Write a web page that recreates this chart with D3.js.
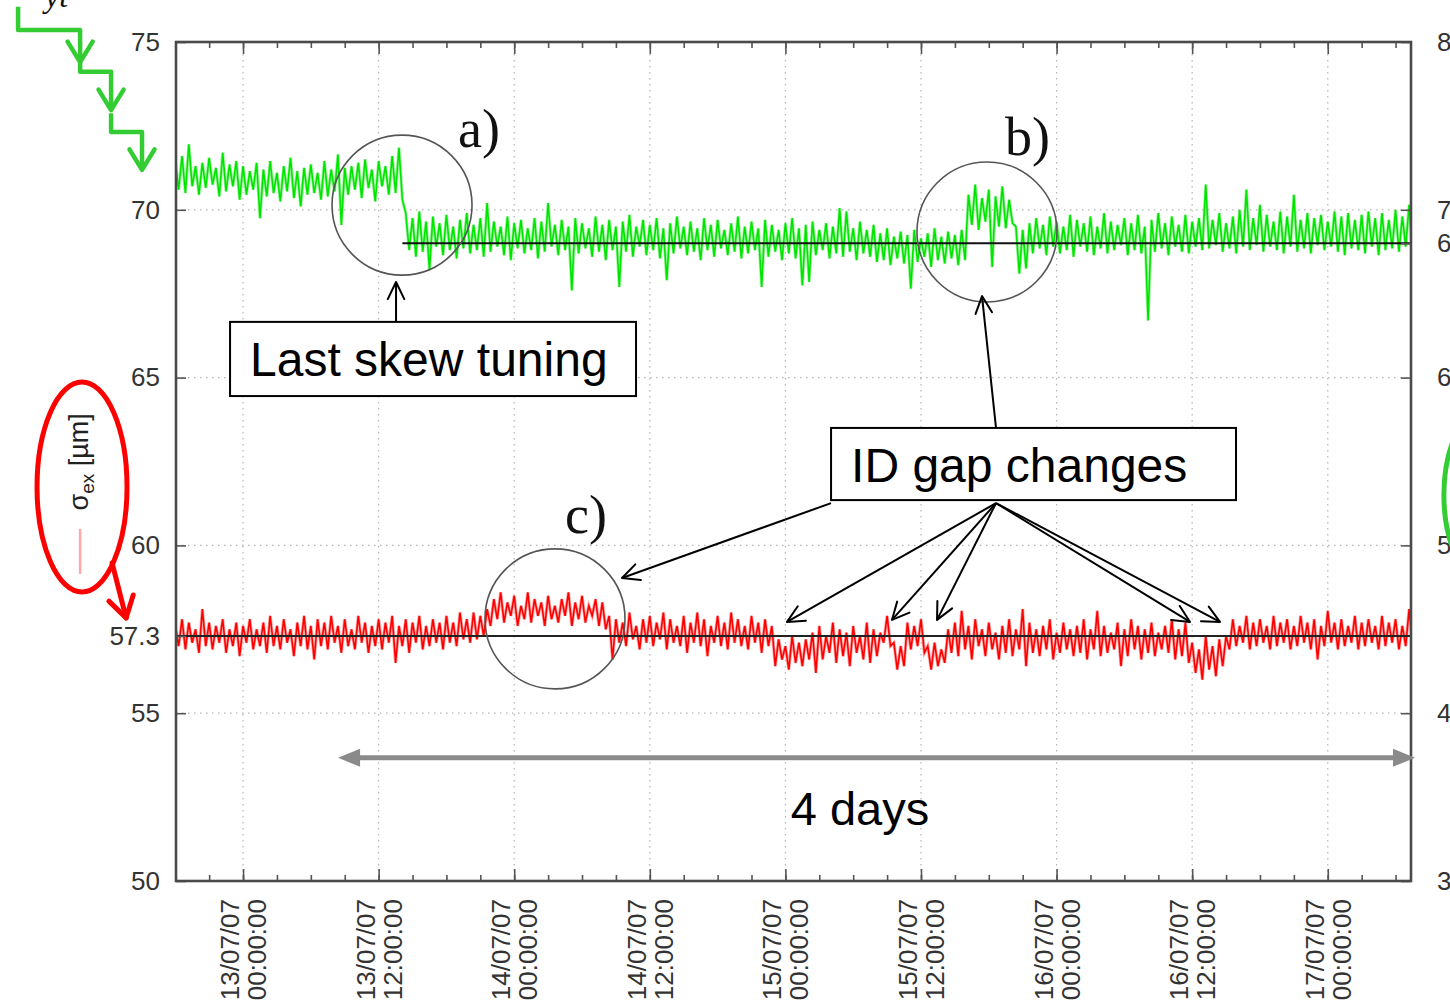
<!DOCTYPE html>
<html>
<head>
<meta charset="utf-8">
<script src="https://cdn.jsdelivr.net/npm/d3@7"></script>
<style>
  body { margin: 0; background: #fff; }
  svg { display: block; font-family: "Liberation Sans", Arial, sans-serif; }
</style>
</head>
<body>
<svg id="chart" width="1450" height="1008"></svg>
<script>
// both beam size traces are sampled every 0.3 h starting 12/07/07 18:00
let sampleStart = Date.UTC(2007, 6, 12, 18, 0);
let sampleStepHours = 0.3;

// sigma_ey [um] (right axis)
let sigmaEy = [
  72.9,71.2,73.2,71.0,73.9,71.4,72.6,70.9,72.8,71.3,73.1,71.5,72.5,70.8,73.4,71.1,72.7,71.4,72.9,70.6,
  72.6,70.9,72.3,71.2,72.8,69.5,72.4,70.8,72.9,71.0,72.2,70.5,72.6,71.1,73.1,70.7,72.3,70.2,72.5,70.9,
  72.7,71.0,72.2,70.6,72.9,70.8,72.4,71.1,73.3,69.1,72.5,70.9,72.6,71.2,72.8,70.7,73.0,71.3,72.4,70.5,
  72.9,71.4,72.6,70.9,73.2,71.0,73.7,70.6,
  69.8,67.6,69.5,67.2,69.9,67.5,69.3,66.4,69.6,67.8,69.2,67.3,69.7,67.6,69.0,67.1,69.4,67.7,69.8,67.4,
  69.1,67.6,69.5,67.2,70.4,67.5,69.3,67.8,69.0,67.3,69.6,67.0,69.2,67.7,69.4,67.4,68.9,67.6,69.5,67.1,
  69.3,67.5,70.4,67.8,69.1,67.3,69.4,67.6,69.0,65.2,69.5,67.4,69.2,67.7,68.9,67.2,69.6,67.5,69.1,67.0,
  69.4,67.6,69.0,65.4,69.3,67.5,69.7,67.2,69.0,67.8,69.4,67.3,69.1,67.6,69.5,67.1,68.9,65.8,69.2,67.4,
  69.6,67.7,69.0,67.3,69.3,67.5,68.9,67.0,69.5,67.6,69.1,67.2,69.4,67.7,68.8,67.3,69.2,67.5,69.6,67.1,
  69.0,67.4,69.3,67.6,68.9,65.4,69.4,67.2,69.1,67.5,68.8,67.0,69.2,67.4,69.5,67.1,68.9,65.5,69.1,65.7,
  69.3,67.3,68.8,67.6,69.2,67.1,69.0,67.4,70.1,67.2,69.9,67.5,68.9,67.0,69.3,67.4,68.8,67.2,69.1,66.9,
  68.6,67.0,68.9,66.7,68.4,67.1,68.7,66.8,68.5,65.3,68.8,66.9,68.3,67.2,68.6,66.6,68.9,67.0,68.4,66.8,
  68.7,67.1,68.5,66.7,68.8,67.0,
  70.9,69.1,71.5,68.8,70.7,69.3,71.2,66.6,70.8,69.0,71.4,68.9,70.6,69.2,
  69.0,66.2,68.8,66.5,69.2,67.4,69.5,67.7,69.1,67.3,69.6,67.8,69.3,67.4,69.0,67.6,69.7,67.2,69.4,67.8,
  69.2,67.5,69.6,67.3,69.0,67.7,69.8,67.4,69.3,67.6,69.1,67.9,69.5,67.3,69.2,67.6,69.7,67.4,69.0,63.4,
  69.4,67.5,69.8,67.7,69.2,67.3,69.6,67.8,69.1,67.5,69.7,67.4,69.3,67.8,69.5,67.6,71.5,67.7,69.4,67.9,
  69.8,67.5,69.2,67.7,69.6,67.4,70.0,67.8,71.2,67.6,69.5,67.9,70.3,67.5,69.7,67.8,69.3,67.6,69.9,67.4,
  69.6,67.8,70.9,67.5,69.4,67.7,69.8,67.4,69.5,67.9,69.7,67.6,69.3,67.8,69.9,67.5,69.6,67.3,69.8,67.7,
  69.4,67.6,69.7,67.4,69.9,67.8,69.5,67.3,69.8,67.6,69.4,67.7,70.0,67.5,69.6,67.8,70.3,67.4,69.7
];

// sigma_ex [um] (left axis)
let sigmaEx = [
  57.6,57.0,57.8,56.9,57.7,57.1,57.5,56.8,58.1,57.0,57.7,56.9,57.6,57.1,57.8,56.8,57.5,57.0,57.7,56.7,
  57.6,57.1,57.8,56.9,57.5,57.0,57.7,56.8,57.9,57.0,57.6,56.9,57.8,57.1,57.5,56.7,57.7,57.0,57.9,56.9,
  57.6,56.6,57.8,57.0,57.7,56.9,57.9,57.1,57.6,56.8,57.8,57.0,57.5,56.9,57.9,57.1,57.7,56.8,57.6,57.0,
  57.8,56.9,57.7,57.1,57.9,56.5,57.6,57.0,57.8,56.8,57.7,57.1,57.9,56.9,57.6,57.0,57.8,57.1,57.7,56.9,
  57.9,57.1,57.7,57.0,58.0,57.2,57.8,57.1,58.0,57.2,57.9,57.3,58.1,
  57.6,58.4,57.8,58.6,57.7,58.3,57.9,58.5,57.6,58.2,57.8,58.6,57.7,58.4,57.9,58.3,57.6,58.5,57.8,58.2,
  57.7,58.4,57.9,58.6,57.6,58.3,57.8,58.5,57.7,58.2,57.9,58.4,57.6,58.3,57.5,
  57.9,56.6,57.8,57.1,57.7,57.0,58.0,57.2,57.6,56.9,57.8,57.1,57.9,57.0,57.7,57.2,58.0,56.9,57.8,57.1,
  57.6,57.0,57.9,56.8,57.7,57.1,58.0,57.0,57.8,56.7,57.6,57.1,57.9,57.0,57.7,56.9,58.0,57.1,57.8,57.0,
  57.6,56.9,57.9,57.1,57.7,56.8,57.8,57.0,57.6,
  56.4,57.2,56.6,57.0,56.3,57.3,56.5,57.1,56.4,57.2,56.6,
  57.4,56.2,57.6,56.6,57.3,56.8,57.7,56.5,57.5,56.7,57.4,56.4,57.6,56.8,57.3,56.6,57.7,56.5,57.5,56.7,57.4,
  57.1,57.9,57.0,
  57.1,56.3,57.0,56.4,
  57.7,56.9,57.6,57.0,57.8,56.8,
  57.0,56.3,57.1,56.4,56.9,56.5,
  57.5,56.8,57.7,56.7,58.05,56.9,57.6,56.6,57.8,57.0,57.5,56.7,57.7,56.9,57.4,56.6,57.6,56.8,57.8,56.7,
  57.5,56.9,58.1,56.4,57.7,56.8,57.5,56.7,57.6,56.9,57.8,56.6,57.4,56.8,57.7,56.9,57.5,56.7,57.6,56.8,
  57.8,56.6,57.5,56.9,58.05,56.7,57.6,56.8,57.4,56.9,57.7,56.4,57.5,56.7,57.8,56.9,57.6,56.6,57.5,56.8,
  57.7,56.7,57.4,56.9,57.6,56.8,57.8,56.6,57.5,56.7,57.7,56.5,
  57.1,56.2,56.9,56.0,57.3,56.3,57.0,56.1,57.2,56.4,57.3,
  56.9,57.8,57.0,57.6,57.1,57.9,56.9,57.7,57.0,57.8,57.1,57.6,56.9,57.9,57.0,57.7,57.1,57.8,56.9,57.6,
  57.0,57.9,57.1,57.7,56.9,57.8,56.6,57.6,57.0,58.05,57.1,57.7,56.9,57.8,57.0,57.6,57.1,57.9,56.9,57.7,
  57.0,57.8,57.1,57.6,56.9,57.9,57.0,57.7,57.1,57.8,56.9,57.6,57.0,58.1,57.1,57.8
];

let leftTicks = [50, 55, 57.3, 60, 65, 70, 75];
let leftGrid = [55, 60, 65, 70];
let rightTicks = [30, 40, 50, 60, 68, 70, 80];
let sigmaExRef = 57.3;   // left axis
let sigmaEyRef = 68;     // right axis
let tuningHour = 14.1;   // hours after 13/07/07 00:00

// annotations, positions as (hours after 13/07/07 00:00, left axis value)
let circles = [{h: 14.07, v: 70.14}, {h: 65.84, v: 69.34}, {h: 27.61, v: 57.81}];
let letters = [{t: "a)", h: 19.03, v: 71.87}, {t: "b)", h: 67.43, v: 71.63}, {t: "c)", h: 28.5, v: 60.37}];
let boxes = [
  {t: "Last skew tuning", h0: -1.15, h1: 34.78, v0: 66.66, v1: 64.45, th: 0.62, tv: 65.05},
  {t: "ID gap changes", h0: 52.04, h1: 87.88, v0: 63.50, v1: 61.35, th: 53.81, tv: 61.89}
];
let arrows = [
  [[13.54, 66.66], [13.54, 67.85]],
  [[66.64, 63.50], [65.40, 67.43]],
  [[52.04, 61.26], [33.54, 59.03]],
  [[66.64, 61.26], [48.14, 57.72]],
  [[66.64, 61.26], [57.43, 57.78]],
  [[66.64, 61.26], [61.42, 57.78]],
  [[66.64, 61.26], [83.81, 57.72]],
  [[66.64, 61.26], [86.46, 57.72]]
];
let greenSteps = [
  [[-19.91, 76.05], [-19.91, 75.36], [-14.42, 75.36], [-14.42, 74.40]],
  [[-14.42, 74.40], [-14.42, 74.11], [-11.68, 74.11], [-11.68, 72.97]],
  [[-11.68, 72.88], [-11.68, 72.32], [-8.94, 72.32], [-8.94, 71.19]]
];

let width = 1450, height = 1008;
let margin = {top: 42, right: 39, bottom: 127, left: 176};
let day0 = Date.UTC(2007, 6, 13, 0, 0);

let x = d3.scaleUtc()
  .domain([new Date(Date.UTC(2007, 6, 12, 18, 4)), new Date(Date.UTC(2007, 6, 17, 7, 22))])
  .range([margin.left, width - margin.right]);
let y = d3.scaleLinear().domain([50, 75]).range([height - margin.bottom, margin.top]);
let y2 = d3.scaleLinear().domain([30, 80]).range([height - margin.bottom, margin.top]);

let hx = h => x(new Date(day0 + h * 3600e3));
let sampleTime = i => new Date(sampleStart + i * sampleStepHours * 3600e3);

let svg = d3.select("#chart");
let plotL = margin.left, plotR = width - margin.right, plotT = margin.top, plotB = height - margin.bottom;

svg.append("defs").append("clipPath").attr("id", "plotclip")
  .append("rect").attr("x", plotL).attr("y", plotT).attr("width", plotR - plotL).attr("height", plotB - plotT);

// grid
let majorTicks = d3.utcHour.every(12).range(x.domain()[0], x.domain()[1]);
let minorTicks = d3.utcHour.every(3).range(x.domain()[0], x.domain()[1]);
let grid = svg.append("g").attr("stroke", "#b4b4b4").attr("stroke-width", 1.2).attr("stroke-dasharray", "1.5,4.5");
majorTicks.forEach(function(d) {
  grid.append("line").attr("x1", x(d)).attr("x2", x(d)).attr("y1", plotT).attr("y2", plotB);
});
leftGrid.forEach(function(v) {
  grid.append("line").attr("x1", plotL).attr("x2", plotR).attr("y1", y(v)).attr("y2", y(v));
});

// traces: a soft wide stroke under a sharp one gives the dense noisy band
let plot = svg.append("g").attr("clip-path", "url(#plotclip)");
let traces = [
  {data: sigmaEy, scale: y2, soft: "#7cf57c", sharp: "#00e400"},
  {data: sigmaEx, scale: y, soft: "#ff8080", sharp: "#ff0000"}
];
traces.forEach(function(tr) {
  let line = d3.line().x((d, i) => x(sampleTime(i))).y(d => tr.scale(d));
  plot.append("path").datum(tr.data)
    .attr("fill", "none").attr("stroke", tr.soft).attr("stroke-width", 3.2).attr("stroke-opacity", 0.7)
    .attr("d", line);
  plot.append("path").datum(tr.data)
    .attr("fill", "none").attr("stroke", tr.sharp).attr("stroke-width", 1.6)
    .attr("d", line);
});

// reference lines
plot.append("line").attr("x1", hx(tuningHour)).attr("x2", plotR)
  .attr("y1", y2(sigmaEyRef)).attr("y2", y2(sigmaEyRef)).attr("stroke", "#111").attr("stroke-width", 2);
plot.append("line").attr("x1", plotL).attr("x2", plotR)
  .attr("y1", y(sigmaExRef)).attr("y2", y(sigmaExRef)).attr("stroke", "#222").attr("stroke-width", 2);

// axes, gnuplot style ticks pointing inward
function styleAxis(g) {
  g.select(".domain").remove();
  g.selectAll(".tick line").attr("stroke", "#555").attr("stroke-width", 1.6);
  g.selectAll("text").attr("fill", "#333").style("font-size", "26px")
    .style("font-family", '"Liberation Sans", Arial, sans-serif');
}
svg.append("g").attr("transform", `translate(${plotL},0)`)
  .call(d3.axisLeft(y).tickValues(leftTicks).tickSize(-10).tickPadding(16).tickFormat(d => String(d)))
  .call(styleAxis);
svg.append("g").attr("transform", `translate(${plotR},0)`)
  .call(d3.axisRight(y2).tickValues(rightTicks).tickSize(-10).tickPadding(26).tickFormat(d => String(d)))
  .call(styleAxis);
[[d3.axisBottom, plotB], [d3.axisTop, plotT]].forEach(function(a) {
  svg.append("g").attr("transform", `translate(0,${a[1]})`)
    .call(a[0](x).tickValues(minorTicks).tickSize(-6).tickFormat(""))
    .call(styleAxis);
  svg.append("g").attr("transform", `translate(0,${a[1]})`)
    .call(a[0](x).tickValues(majorTicks).tickSize(-12).tickFormat(""))
    .call(styleAxis);
});

// frame
svg.append("rect").attr("x", plotL).attr("y", plotT).attr("width", plotR - plotL).attr("height", plotB - plotT)
  .attr("fill", "none").attr("stroke", "#4a4a4a").attr("stroke-width", 2.6);

// rotated two line date labels
let fmtDate = d3.utcFormat("%d/%m/%y");
let fmtTime = d3.utcFormat("%H:%M:%S");
majorTicks.forEach(function(d) {
  let g = svg.append("g").attr("transform", `translate(${x(d)},899) rotate(-90)`)
    .attr("fill", "#333").style("font-size", "26px").attr("text-anchor", "end");
  g.append("text").attr("x", 0).attr("y", -4).text(fmtDate(d));
  g.append("text").attr("x", 0).attr("y", 23).text(fmtTime(d));
});

// annotations
let ann = svg.append("g");
function head(g, x1, y1, x2, y2, len, spread, color, w) {
  let a = Math.atan2(y2 - y1, x2 - x1);
  let p1 = [x2 - len * Math.cos(a - spread), y2 - len * Math.sin(a - spread)];
  let p2 = [x2 - len * Math.cos(a + spread), y2 - len * Math.sin(a + spread)];
  g.append("path").attr("d", `M${p1}L${x2},${y2}L${p2}`)
    .attr("fill", "none").attr("stroke", color).attr("stroke-width", w)
    .attr("stroke-linejoin", "round").attr("stroke-linecap", "round");
}

circles.forEach(function(c) {
  ann.append("circle").attr("cx", hx(c.h)).attr("cy", y(c.v)).attr("r", 70)
    .attr("fill", "none").attr("stroke", "#555").attr("stroke-width", 1.6);
});
letters.forEach(function(l) {
  ann.append("text").attr("x", hx(l.h)).attr("y", y(l.v)).text(l.t)
    .style("font-family", '"Liberation Serif", "Times New Roman", serif').style("font-size", "54px").attr("fill", "#111");
});
boxes.forEach(function(b) {
  ann.append("rect").attr("x", hx(b.h0)).attr("y", y(b.v0))
    .attr("width", hx(b.h1) - hx(b.h0)).attr("height", y(b.v1) - y(b.v0))
    .attr("fill", "#fff").attr("stroke", "#000").attr("stroke-width", 2);
  ann.append("text").attr("x", hx(b.th)).attr("y", y(b.tv)).text(b.t)
    .style("font-size", "48px").attr("fill", "#000");
});
arrows.forEach(function(a) {
  let x1 = hx(a[0][0]), y1 = y(a[0][1]), x2 = hx(a[1][0]), y2p = y(a[1][1]);
  ann.append("line").attr("x1", x1).attr("y1", y1).attr("x2", x2).attr("y2", y2p)
    .attr("stroke", "#000").attr("stroke-width", 2);
  head(ann, x1, y1, x2, y2p, 19, 0.45, "#000", 2);
});

// 4 days span
let spanY = y(53.67), sx0 = hx(8.41), sx1 = hx(103.72);
ann.append("line").attr("x1", sx0 + 18).attr("x2", sx1 - 18).attr("y1", spanY).attr("y2", spanY)
  .attr("stroke", "#8a8a8a").attr("stroke-width", 5);
ann.append("path").attr("d", `M${sx0},${spanY}L${sx0 + 22},${spanY - 9}L${sx0 + 22},${spanY + 9}Z`).attr("fill", "#8a8a8a");
ann.append("path").attr("d", `M${sx1},${spanY}L${sx1 - 22},${spanY - 9}L${sx1 - 22},${spanY + 9}Z`).attr("fill", "#8a8a8a");
ann.append("text").attr("x", hx(54.6)).attr("y", y(51.67)).attr("text-anchor", "middle")
  .text("4 days").style("font-size", "47px").attr("fill", "#000");

// red legend marker for sigma_ex
ann.append("ellipse").attr("cx", hx(-14.25)).attr("cy", y(61.74)).attr("rx", 45).attr("ry", 105)
  .attr("fill", "none").attr("stroke", "#ff0000").attr("stroke-width", 5);
let lt = ann.append("text").attr("transform", `translate(${hx(-13.72)},${y(62.49)}) rotate(-90)`)
  .attr("text-anchor", "middle").style("font-size", "27px").attr("fill", "#222");
lt.append("tspan").text("σ");
lt.append("tspan").attr("dy", 6).style("font-size", "19px").text("ex");
lt.append("tspan").attr("dy", -6).text(" [µm]");
ann.append("line").attr("x1", hx(-14.42)).attr("x2", hx(-14.42)).attr("y1", y(60.49)).attr("y2", y(59.15))
  .attr("stroke", "#ffa8a8").attr("stroke-width", 2.5);
let ra = [[-11.59, 59.48], [-10.35, 57.84]];
ann.append("line").attr("x1", hx(ra[0][0])).attr("y1", y(ra[0][1])).attr("x2", hx(ra[1][0])).attr("y2", y(ra[1][1]))
  .attr("stroke", "#ff0000").attr("stroke-width", 5).attr("stroke-linecap", "round");
head(ann, hx(ra[0][0]), y(ra[0][1]), hx(ra[1][0]), y(ra[1][1]), 24, 0.55, "#ff0000", 5);

// green step arrows for sigma_ey, and its cut off marker on the right
greenSteps.forEach(function(s) {
  ann.append("path").attr("d", d3.line().x(p => hx(p[0])).y(p => y(p[1]))(s))
    .attr("fill", "none").attr("stroke", "#33cc33").attr("stroke-width", 4.5).attr("stroke-linejoin", "round");
  let a = s[s.length - 2], b = s[s.length - 1];
  head(ann, hx(a[0]), y(a[1]), hx(b[0]), y(b[1]), 24, 0.55, "#33cc33", 4.5);
});
ann.append("text").attr("x", hx(-17.52)).attr("y", y(76.04)).text("yt")
  .style("font-family", '"Liberation Serif", serif').style("font-style", "italic").style("font-size", "32px").attr("fill", "#111");
ann.append("ellipse").attr("cx", hx(110.35)).attr("cy", y(61.5)).attr("rx", 46).attr("ry", 90)
  .attr("fill", "none").attr("stroke", "#33cc33").attr("stroke-width", 5);
</script>
</body>
</html>
